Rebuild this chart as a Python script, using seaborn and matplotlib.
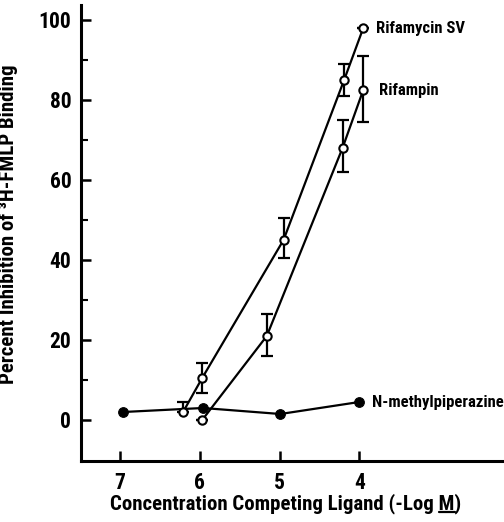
import matplotlib
matplotlib.use("Agg")
import matplotlib.pyplot as plt
import seaborn as sns
import pandas as pd
from matplotlib import font_manager
from matplotlib.ticker import FixedLocator
from matplotlib.lines import Line2D

# Concentrations are -log M; responses are percent inhibition
rifamycin_x = [6.21, 5.97, 4.95, 4.19, 3.95]
rifamycin_y = [2.0, 10.5, 45.0, 85.0, 98.0]
rifamycin_err_lo = [0.0, 3.7, 4.5, 4.0, 0.0]
rifamycin_err_hi = [2.5, 3.7, 5.5, 4.0, 0.0]

rifampin_x = [5.97, 5.16, 4.21, 3.95]
rifampin_y = [0.0, 21.0, 68.0, 82.5]
rifampin_err_lo = [0.0, 5.0, 6.0, 8.0]
rifampin_err_hi = [0.0, 5.5, 7.0, 8.5]

nmp_x = [6.96, 5.96, 4.99, 4.0]
nmp_y = [2.0, 3.0, 1.5, 4.5]

series_names = ["Rifamycin SV", "Rifampin", "N-methylpiperazine"]
x_ticks = [7, 6, 5, 4]
y_ticks = [0, 20, 40, 60, 80, 100]

sns.set_style("ticks")
installed = {f.name for f in font_manager.fontManager.ttflist}
narrow = [n for n in ["Liberation Sans Narrow", "Arial Narrow", "Roboto Condensed",
                      "Open Sans Condensed", "DejaVu Sans Condensed"] if n in installed]
FONT = narrow[:1] + ["DejaVu Sans"]
plt.rcParams["font.family"] = FONT
plt.rcParams["font.weight"] = "bold"
plt.rcParams["axes.labelweight"] = "bold"
plt.rcParams["font.stretch"] = "condensed"
plt.rcParams["text.color"] = "black"
plt.rcParams["axes.labelcolor"] = "black"
plt.rcParams["xtick.color"] = "black"
plt.rcParams["ytick.color"] = "black"

fig = plt.figure(figsize=(5.04, 5.22), dpi=100)
ax = fig.add_axes([81 / 504, 1 - 461 / 522, (502 - 81) / 504, (461 - 5) / 522])

LW = 1.6
frames = [
    pd.DataFrame({"conc": rifamycin_x, "pct": rifamycin_y}),
    pd.DataFrame({"conc": rifampin_x, "pct": rifampin_y}),
    pd.DataFrame({"conc": nmp_x, "pct": nmp_y}),
]

# error bars sit beneath the markers
ax.errorbar(rifamycin_x, rifamycin_y, yerr=[rifamycin_err_lo, rifamycin_err_hi],
            fmt="none", ecolor="black", elinewidth=LW, capsize=4, capthick=LW, zorder=2)
ax.errorbar(rifampin_x, rifampin_y, yerr=[rifampin_err_lo, rifampin_err_hi],
            fmt="none", ecolor="black", elinewidth=LW, capsize=4, capthick=LW, zorder=2)

sns.lineplot(data=frames[2], x="conc", y="pct", sort=False, ax=ax, color="black",
             linewidth=LW, marker="o", markersize=7, markerfacecolor="black",
             markeredgecolor="black", zorder=3)
for df in frames[:2]:
    sns.lineplot(data=df, x="conc", y="pct", sort=False, ax=ax, color="black",
                 linewidth=LW, marker="o", markersize=6, markerfacecolor="white",
                 markeredgecolor="black", markeredgewidth=1.5, zorder=4)

LABEL_FS = 12
# series labels next to the last point of each curve
ax.annotate(series_names[0], (rifamycin_x[-1], rifamycin_y[-1]), xytext=(9, 0),
            textcoords="offset points", ha="left", va="center", fontsize=LABEL_FS,
            fontweight="bold")
ax.annotate(series_names[1], (rifampin_x[-1], rifampin_y[-1]), xytext=(11, 0),
            textcoords="offset points", ha="left", va="center", fontsize=LABEL_FS,
            fontweight="bold")
ax.annotate(series_names[2], (nmp_x[-1], nmp_y[-1]), xytext=(9, 0),
            textcoords="offset points", ha="left", va="center", fontsize=LABEL_FS,
            fontweight="bold")

ax.set_xlim(7.49, 2.21)
ax.set_ylim(-10.25, 103.75)
ax.xaxis.set_major_locator(FixedLocator(x_ticks))
ax.set_xticklabels([str(t) for t in x_ticks])
ax.yaxis.set_major_locator(FixedLocator(y_ticks))
ax.set_yticklabels([str(t) for t in y_ticks])
ax.yaxis.set_minor_locator(FixedLocator([10, 30, 50, 70, 90]))

for s in ["top", "right"]:
    ax.spines[s].set_visible(False)
for s in ["left", "bottom"]:
    ax.spines[s].set_linewidth(2.2)
    ax.spines[s].set_color("black")

ax.tick_params(axis="both", which="major", direction="in", length=7, width=1.8,
               labelsize=15.5, color="black")
ax.tick_params(axis="y", which="major", pad=7)
ax.tick_params(axis="x", which="major", pad=8)
ax.tick_params(axis="y", which="minor", direction="in", length=5, width=1.5)
for lbl in ax.get_xticklabels() + ax.get_yticklabels():
    lbl.set_fontweight("bold")

AX_FS = 15
ax.set_ylabel("Percent Inhibition of \u00b3H-FMLP Binding", fontsize=AX_FS,
              fontweight="bold")
ax.yaxis.set_label_coords((18 - 81) / (502 - 81), (461 - 224) / (461 - 5))

xlabel_text = "Concentration Competing Ligand (-Log M)"
ax.set_xlabel("")
xl = fig.text(286 / 504, 1 - 504 / 522, xlabel_text, ha="center", va="center",
              fontsize=AX_FS, fontweight="bold")

# underline the unit M
fig.canvas.draw()
renderer = fig.canvas.get_renderer()
bb = xl.get_window_extent(renderer)
head = fig.text(0, 0, xlabel_text[:-1], fontsize=AX_FS, fontweight="bold")
unit = fig.text(0, 0, "M", fontsize=AX_FS, fontweight="bold")
w_head = head.get_window_extent(renderer).width
w_unit = unit.get_window_extent(renderer).width
head.remove()
unit.remove()
x1 = bb.x0 + w_head
x0 = x1 - w_unit
yline = bb.y0 + 2
W, H = fig.bbox.width, fig.bbox.height
fig.add_artist(Line2D([x0 / W, x1 / W], [yline / H, yline / H], color="black",
                      linewidth=1.6, transform=fig.transFigure))

fig.savefig("out.png", dpi=100)
